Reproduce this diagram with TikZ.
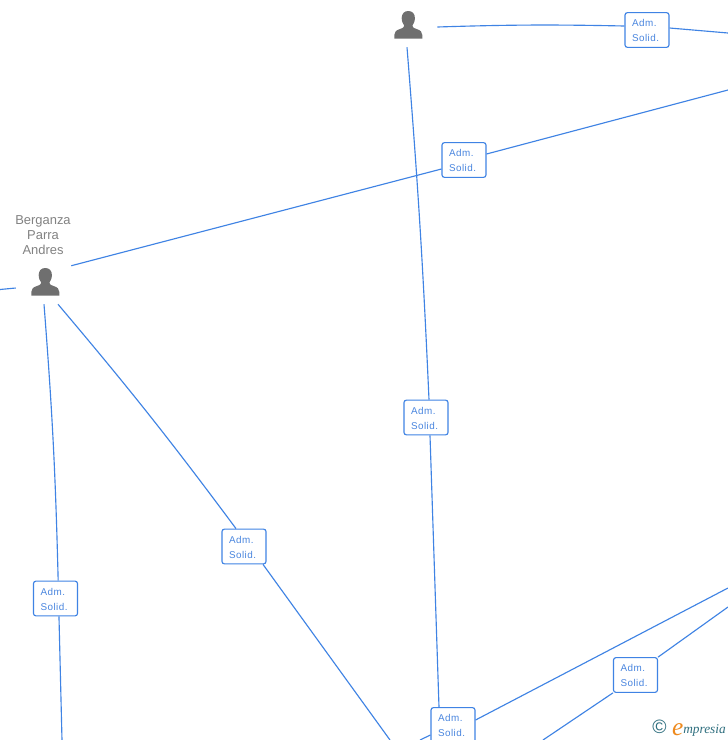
\documentclass[tikz,border=0pt]{standalone}
\usepackage{fontspec}
\setmainfont{Liberation Sans}
\newfontfamily\boxfont[LetterSpace=5]{Liberation Sans}
\newfontfamily\logofont{Liberation Serif}
\definecolor{linkblue}{HTML}{3F83E4}
\definecolor{boxtext}{HTML}{4A86DF}
\definecolor{persongray}{HTML}{6F6F6F}
\definecolor{labelgray}{HTML}{828282}
\definecolor{logoteal}{HTML}{2F6F7F}
\definecolor{logoorange}{HTML}{EE8A1E}
\tikzset{
  link/.style={draw=linkblue, line width=.85pt},
  solidbox/.style={draw=linkblue, line width=.85pt, fill=white, rounded corners=1.8pt,
    minimum width=33pt, minimum height=26pt, inner sep=0pt, text width=22.5pt, text height=6.4pt,
    text=boxtext, font=\boxfont\fontsize{7.4}{11.2}\selectfont, align=left},
  personslot/.style={minimum width=43.5pt, minimum height=31.5pt, inner sep=0pt},
  personlabel/.style={text=labelgray, font=\fontsize{9.7}{11.2}\selectfont, align=center, inner sep=0pt},
  personicon/.pic={
    \fill[persongray] (.3,-15) .. controls (-4,-15) and (-6.3,-12) .. (-6.3,-8)
      .. controls (-6.3,-4.5) and (-5,-2) .. (-3.8,-.5)
      .. controls (-3.8,1) and (-4.5,1.8) .. (-8,3)
      .. controls (-12,4.3) and (-13.7,6) .. (-13.7,9) -- (-13.7,12.6) -- (14.3,12.6) -- (14.3,9)
      .. controls (14.3,6) and (12.6,4.3) .. (8.6,3)
      .. controls (5.1,1.8) and (4.4,1) .. (4.4,-.5)
      .. controls (5.6,-2) and (6.9,-4.5) .. (6.9,-8)
      .. controls (6.9,-12) and (4.6,-15) .. (.3,-15) -- cycle;
  }
}
\begin{document}
\begin{tikzpicture}[x=.75pt, y=-.75pt]
 \clip (0,0) rectangle (728,740);
 \fill[white] (0,0) rectangle (728,740);
 \node[personslot] (topperson) at (408,26) {};
 \node[personslot] (berganza) at (45,283) {};
 \foreach \nm/\px/\py in {topbox/647/30, midbox/464/160, centerbox/426/417.5, bottombox/453/725,
     leftbox/55.5/598.5, diagbox/244/546.5, rightbox/635.5/675}
 {
     \node[solidbox] (\nm) at (\px,\py) {Adm.\\Solid.};
 }
 \coordinate (topend) at (728,33);
 \coordinate (midend) at (728,90);
 \coordinate (leftend) at (62,740);
 \coordinate (diagend) at (390,740);
 \coordinate (lowend) at (728,588);
 \coordinate (rightend) at (728,607);
 \coordinate (rightlow) at (543,740);
 \coordinate (bottomlow) at (420,740);
 \coordinate (farleft) at (0,289.5);
 \draw[link] ([yshift=-.75pt]topperson.east) to[bend left=1.5] ([yshift=3pt]topbox.west);
 \draw[link] ([yshift=1.5pt]topbox.east) -- (topend);
 \draw[link] ([xshift=-2.25pt,yshift=-3pt]berganza.north east) -- ([yshift=-6.75pt]midbox.west);
 \draw[link] ([yshift=4.5pt]midbox.east) -- (midend);
 \draw[link] ([xshift=-.75pt]topperson.south) to[bend left=1] ([xshift=2.25pt]centerbox.north);
 \draw[link] ([xshift=3pt]centerbox.south) -- ([xshift=-10.5pt]bottombox.north);
 \draw[link] ([xshift=-.75pt]berganza.south) to[bend left=1.5] ([xshift=2pt]leftbox.north);
 \draw[link] ([xshift=2.6pt]leftbox.south) -- (leftend);
 \draw[link] ([xshift=9.75pt]berganza.south) to[bend left=1.8] ([xshift=-6pt]diagbox.north);
 \draw[link] ([xshift=14.25pt]diagbox.south) -- (diagend);
 \draw[link] ([yshift=3.75pt]bottombox.east) -- (lowend);
 \draw[link] ([yshift=-7.5pt]bottombox.west) -- (bottomlow);
 \draw[link] (rightbox.north east) -- (rightend);
 \draw[link] (rightbox.south west) -- (rightlow);
 \draw[link] ([yshift=-3.75pt]berganza.west) -- (farleft);
 \pic at (topperson) {personicon};
 \pic at (berganza) {personicon};
 \node[personlabel] (berganzaname) at (43,235) {Berganza\\Parra\\Andres};
 \node[inner sep=0pt, anchor=east] (logo) at (726,728.5)
   {\textcolor{logoteal}{\fontsize{14.5}{14.5}\selectfont ©}\hspace{4pt}{\logofont\itshape\textcolor{logoorange}{\raisebox{-1pt}{\fontsize{19}{19}\selectfont e}}\textcolor{logoteal}{\fontsize{10}{10}\selectfont mpresia}}};
\end{tikzpicture}
\end{document}
